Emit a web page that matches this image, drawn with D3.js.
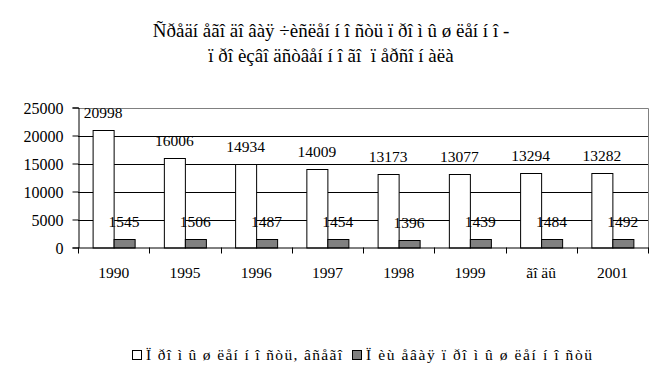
<!DOCTYPE html>
<html>
<head>
<meta charset="utf-8">
<script src="https://cdn.jsdelivr.net/npm/d3@7"></script>
<style>
html,body{margin:0;padding:0;background:#fff;}
svg text{font-family:"Liberation Serif","Times New Roman",serif;fill:#000;}
</style>
</head>
<body>
<svg id="chart" width="661" height="392"></svg>
<script>
const categories = ["1990","1995","1996","1997","1998","1999","ãî äû","2001"];
const seriesNames = ["Ï ðî ì û ø ëåí í î ñòü, âñåãî","Ï èù åâàÿ ï ðî ì û ø ëåí í î ñòü"];
const totalIndustry = [20998,16006,14934,14009,13173,13077,13294,13282];
const foodIndustry = [1545,1506,1487,1454,1396,1439,1484,1492];
const yTicks = [0,5000,10000,15000,20000,25000];
const titleLines = ["Ñðåäí åãî äî âàÿ ÷èñëåí í î ñòü ï ðî ì û ø ëåí í î -","ï ðî èçâî äñòâåí í î ãî\u00a0\u00a0ï åðñî í àëà"];

const svg = d3.select("#chart");
const L=78, R=648, T=107.5, B=247.5;
const fills = ["#ffffff","#808080"];
const values = [totalIndustry, foodIndustry];

const y = d3.scaleLinear().domain([0,25000]).range([B,T]);
const x0 = d3.scaleBand().domain(categories).range([L,R]).paddingInner(0.41).paddingOuter(0.205);
const x1 = d3.scaleBand().domain([0,1]).range([0,x0.bandwidth()]);
const step = x0.step();

// title
svg.append("g").selectAll("text").data(titleLines).join("text")
  .attr("x",331).attr("y",(d,i)=>37+i*25).attr("text-anchor","middle")
  .style("font-size","19px").text(d=>d);

// gridlines
svg.append("g").selectAll("line").data(yTicks.filter(v=>v>0 && v<25000)).join("line")
  .attr("x1",L).attr("x2",R).attr("y1",d=>Math.round(y(d))+0.5).attr("y2",d=>Math.round(y(d))+0.5)
  .attr("stroke","#000").attr("stroke-width",1);
// plot border top/right gray
svg.append("path").attr("d",`M${L},${Math.round(T)+0.5}H${R+0.5}V${B}`)
  .attr("fill","none").attr("stroke","#808080").attr("stroke-width",1);

// bars
const groups = svg.append("g").selectAll("g").data(categories).join("g")
  .attr("transform",d=>`translate(${x0(d)},0)`);
groups.selectAll("rect").data((d,i)=>values.map((s,k)=>({k,v:s[i]}))).join("rect")
  .attr("x",d=>Math.round(x1(d.k))+0.5).attr("width",x1.bandwidth())
  .attr("y",d=>Math.round(y(d.v))+0.5).attr("height",d=>B-Math.round(y(d.v)))
  .attr("fill",d=>fills[d.k]).attr("stroke","#000").attr("stroke-width",1);
groups.selectAll("text").data((d,i)=>values.map((s,k)=>({k,v:s[i]}))).join("text")
  .attr("x",d=>x1(d.k)+x1.bandwidth()/2).attr("y",d=>y(d.v)-12)
  .attr("text-anchor","middle").style("font-size","15.5px").text(d=>d.v);

// y axis
const yAxis = d3.axisLeft(y).tickValues(yTicks).tickSize(6).tickPadding(9).tickFormat(d3.format("d"));
const yg = svg.append("g").attr("transform",`translate(${L+0.5},0)`).call(yAxis);
yg.select(".domain").attr("stroke","#000");
yg.selectAll(".tick line").attr("stroke","#000");
yg.selectAll(".tick text").style("font-size","16px").attr("dy","0.35em");

// x axis
svg.append("line").attr("x1",L).attr("x2",R+1).attr("y1",B+0.5).attr("y2",B+0.5).attr("stroke","#000");
const tickPos = d3.range(categories.length+1).map(i=>L+i*step);
svg.append("g").selectAll("line").data(tickPos).join("line")
  .attr("x1",d=>Math.round(d)+0.5).attr("x2",d=>Math.round(d)+0.5).attr("y1",B).attr("y2",B+6)
  .attr("stroke","#000");
svg.append("g").selectAll("text").data(categories).join("text")
  .attr("x",d=>x0(d)+x0.bandwidth()/2).attr("y",278).attr("text-anchor","middle")
  .style("font-size","15.5px").text(d=>d);

// legend
const legX = [132, 352];
const legW = [196, 226];
const lg = svg.append("g").selectAll("g").data(seriesNames).join("g")
  .attr("transform",(d,i)=>`translate(${legX[i]},0)`);
lg.append("rect").attr("x",0.5).attr("y",350.5).attr("width",9).attr("height",9)
  .attr("fill",(d,i)=>fills[i]).attr("stroke","#000");
lg.append("text").attr("x",14).attr("y",360).style("font-size","15.5px")
  .attr("textLength",(d,i)=>legW[i]).attr("lengthAdjust","spacing").text(d=>d);
</script>
</body>
</html>
